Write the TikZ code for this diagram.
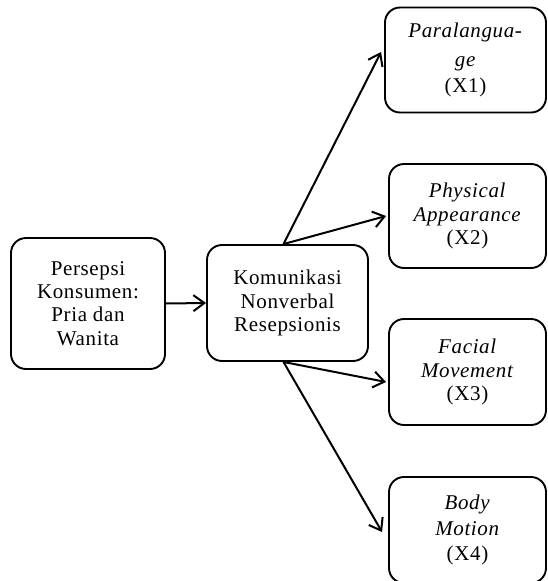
\documentclass[tikz,border=0pt]{standalone}
\usepackage{fontspec}
\setmainfont[LetterSpace=3]{Liberation Serif}
\usetikzlibrary{arrows.meta}
\begin{document}
\begin{tikzpicture}[x=1pt,y=-1pt,
  box/.style={draw, line width=1.9pt, rounded corners=15pt, align=center,
    font=\fontsize{21}{23.3}\selectfont, inner sep=0pt},
  conn/.style={line width=2pt, -{Straight Barb[length=11pt,width=16pt,line width=2pt]}}]
\useasboundingbox (0,0) rectangle (547,581);
\node[box, minimum width=154pt, minimum height=131pt] (L) at (88,303.5)
  {Persepsi\\Konsumen:\\Pria dan\\Wanita};
\node[box, minimum width=161pt, minimum height=116pt] (M) at (287.5,303)
  {Komunikasi\\Nonverbal\\Resepsionis};
\node[box, minimum width=161pt, minimum height=105pt] (X1) at (465.5,60)
  {\textit{Paralangua-}\\[6pt]\textit{ge}\\[3pt](X1)};
\node[box, minimum width=157pt, minimum height=104pt] (X2) at (467.5,216)
  {\textit{Physical}\\\textit{Appearance}\\(X2)};
\node[box, minimum width=157pt, minimum height=106pt] (X3) at (467.5,372)
  {\textit{Facial}\\\textit{Movement}\\(X3)};
\node[box, minimum width=157pt, minimum height=106pt] (X4) at (467.5,530)
  {\textit{Body}\\[2pt]\textit{Motion}\\[2pt](X4)};
\draw[conn] (L.east) -- (M.west);
\draw[conn] ([xshift=-4pt]M.north) -- ([xshift=-3pt,yshift=8pt]X1.west);
\draw[conn] ([xshift=-4pt]M.north) -- ([xshift=-2pt]X2.west);
\draw[conn] ([xshift=-4pt]M.south) -- ([xshift=-2pt,yshift=-10pt]X3.west);
\draw[conn] ([xshift=-4pt]M.south) -- ([xshift=-6pt,yshift=-2pt]X4.west);
\end{tikzpicture}
\end{document}
